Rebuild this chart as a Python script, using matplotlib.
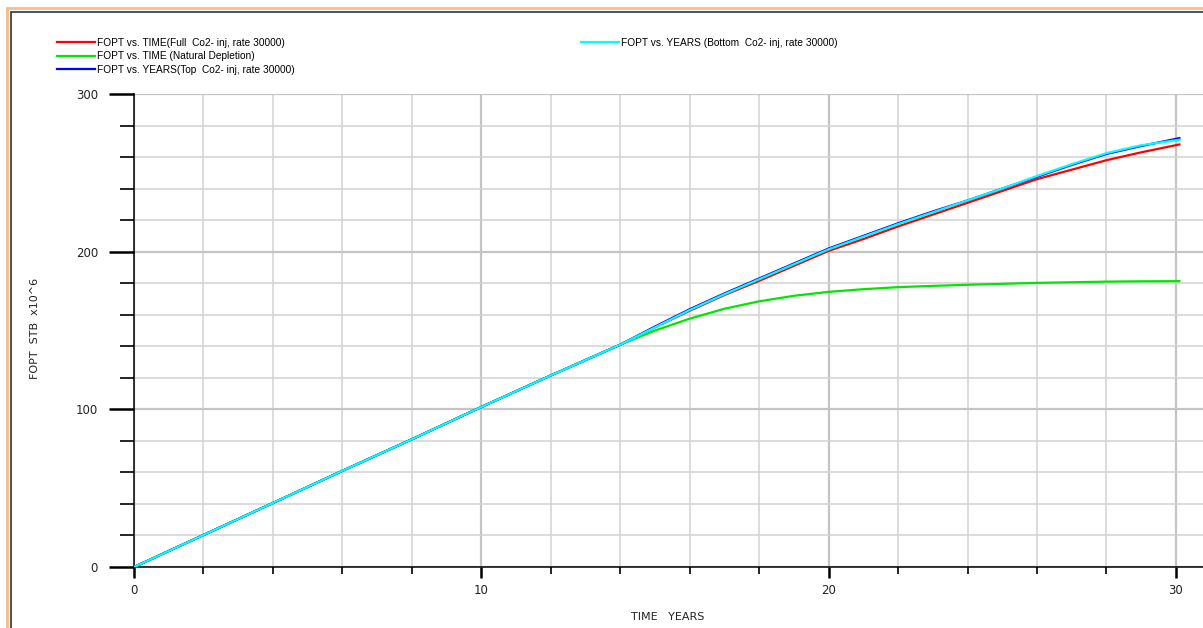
import matplotlib.pyplot as plt
from matplotlib.patches import Rectangle
from matplotlib.ticker import MultipleLocator

# годы и накопленная добыча нефти FOPT, STB x10^6
years = [0, 2, 4, 6, 8, 10, 12, 14, 15, 16, 17, 18, 19, 20, 21, 22, 23, 24, 25, 26, 27, 28, 29, 30.1]
fopt_full = [0, 20.3, 40.6, 61, 81, 101.5, 121.5, 141, 152, 162.5, 172.5, 181.5, 191, 200.5,
             208, 216, 223.5, 231, 238.5, 246, 252, 258, 263, 268]
fopt_natural = [0, 20.3, 40.6, 61, 81, 101.5, 121.5, 141, 150, 157.5, 163.8, 168.5, 172, 174.5,
                176.2, 177.5, 178.3, 179, 179.6, 180.2, 180.6, 181, 181.2, 181.3]
fopt_top = [0, 20.3, 40.6, 61, 81, 101.5, 121.5, 141, 152.5, 163.5, 173.5, 183, 192.5, 202,
            210, 218, 225.5, 232.5, 240, 247.5, 255, 262, 267, 272]
fopt_bottom = [0, 20.3, 40.6, 61, 81, 101.5, 121.5, 141, 152, 163, 173, 182.5, 192, 201.5,
               209.5, 217.5, 225, 232.5, 240, 248, 255.5, 262.5, 267.5, 271]

labels = ["FOPT vs. TIME(Full  Co2- inj, rate 30000)",
          "FOPT vs. TIME (Natural Depletion)",
          "FOPT vs. YEARS(Top  Co2- inj, rate 30000)",
          "FOPT vs. YEARS (Bottom  Co2- inj, rate 30000)"]
colors = ["#ff0000", "#00e600", "#0000ff", "#00ffff"]

W, H = 1203, 628
fig = plt.figure(figsize=(W / 100, H / 100), dpi=100)
ax = fig.add_axes([134 / W, 61 / H, 1 - 134 / W, 473 / H])

lines = []
for y, c, lab in zip([fopt_full, fopt_natural, fopt_top, fopt_bottom], colors, labels):
    ln, = ax.plot(years, y, color=c, lw=1.6, label=lab, zorder=3)
    lines.append(ln)

ax.set_xlim(0, 30.78)
ax.set_ylim(0, 300)
ax.xaxis.set_major_locator(MultipleLocator(10))
ax.xaxis.set_minor_locator(MultipleLocator(2))
ax.yaxis.set_major_locator(MultipleLocator(100))
ax.yaxis.set_minor_locator(MultipleLocator(20))

# сетка: основные линии чуть темнее
ax.grid(which="major", color="#c4c4c4", lw=1.6, zorder=1)
ax.grid(which="minor", color="#d2d2d2", lw=1.1, zorder=1)

for s in ["top", "right"]:
    ax.spines[s].set_visible(False)
for s in ["left", "bottom"]:
    ax.spines[s].set_linewidth(1.1)
    ax.spines[s].set_color("black")

ax.tick_params(axis="y", which="major", length=18, width=1.8, pad=8, labelsize=8.5, labelcolor="#222222")
ax.tick_params(axis="y", which="minor", length=10, width=1.2)
ax.tick_params(axis="x", which="major", length=8, width=1.8, pad=4, labelsize=8.5, labelcolor="#222222")
ax.tick_params(axis="x", which="minor", length=5, width=1.2)

fig.text(35 / W, 1 - 328 / H, "FOPT  STB  x10^6", rotation=90, ha="center", va="center",
         fontsize=8, color="#222222")
fig.text(668 / W, 1 - 617 / H, "TIME   YEARS", ha="center", va="center", fontsize=8, color="#222222")

leg_kw = dict(frameon=False, handlelength=3.75, handletextpad=0.2,
              labelspacing=0.34, borderpad=0, borderaxespad=0,
              prop={"family": "Liberation Sans", "size": 7.3})
fig.legend(lines[:3], labels[:3], loc="upper left", bbox_to_anchor=(57 / W, 1 - 38 / H), **leg_kw)
fig.legend(lines[3:], labels[3:], loc="upper left", bbox_to_anchor=(581 / W, 1 - 38 / H), **leg_kw)

# рамка вокруг рисунка
fig.patches.append(Rectangle((7 / W, -0.1), 1.2, 1 - 8 / H + 0.1, transform=fig.transFigure,
                             fill=False, edgecolor="#f8bb8a", lw=2))
fig.patches.append(Rectangle((10.5 / W, -0.1), 1.2, 1 - 12 / H + 0.1, transform=fig.transFigure,
                             fill=False, edgecolor="#333333", lw=1.2))

fig.savefig("out.png", dpi=100)
